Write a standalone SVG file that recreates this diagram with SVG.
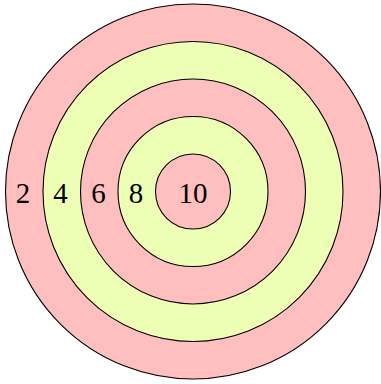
<svg xmlns="http://www.w3.org/2000/svg" width="381" height="384" viewBox="0 0 381 384">
<style>
.r{stroke:#000;stroke-width:1.1}
.p{fill:#ffbfbf}
.g{fill:#ecffb5}
.t{font-size:29px;text-anchor:middle;fill:#000}
</style>
<rect width="381" height="384" fill="#fff"/>
<g id="ring2"><circle class="r p" cx="193" cy="191.5" r="187.5"/></g>
<g id="ring4"><circle class="r g" cx="193" cy="191.5" r="150"/></g>
<g id="ring6"><circle class="r p" cx="193" cy="191.5" r="112.5"/></g>
<g id="ring8"><circle class="r g" cx="193" cy="191.5" r="75"/></g>
<g id="ring10"><circle class="r p" cx="193" cy="191.5" r="37.5"/></g>
<g id="labels" font-family="'Liberation Serif', 'DejaVu Serif', serif">
<text class="t" x="23" y="203">2</text>
<text class="t" x="60.5" y="203">4</text>
<text class="t" x="98.5" y="203">6</text>
<text class="t" x="136" y="203">8</text>
<text class="t" x="193" y="203">10</text>
</g>
</svg>
